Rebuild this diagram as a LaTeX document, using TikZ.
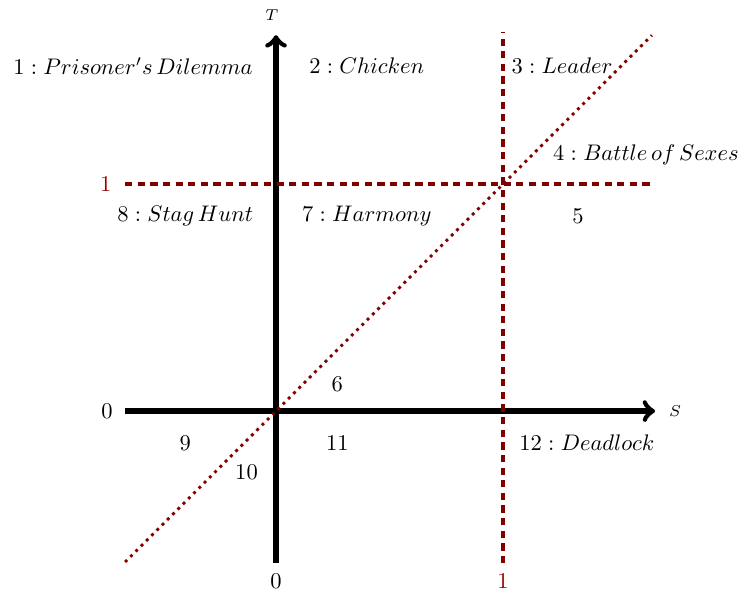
\documentclass[tikz,border=0pt]{standalone}
\begin{document}
\begin{tikzpicture}[x=3.54cm, y=3.54cm,
  axis/.style={line width=2.3pt,->},
  bound/.style={line width=1.6pt,dash pattern=on 3.2pt off 2.4pt,red!50!black},
  diag/.style={line width=1.3pt,dotted,red!50!black},
  tick/.style={inner sep=1pt},
  game/.style={inner sep=1pt}]
\useasboundingbox (-1.216,-0.793) rectangle (2.053,1.811);
% Axes
\coordinate (sL) at (-0.665,0);
\coordinate (sR) at (1.67,0);
\coordinate (tB) at (0,-0.67);
\coordinate (tT) at (0,1.656);
\draw[axis] (sL) -- (sR);
\draw[axis] (tB) -- (tT);
\node[tick,font=\scriptsize] (S) at (1.758,0) {$S$};
\node[tick,font=\scriptsize] (T) at (-0.018,1.745) {$T$};
% Boundaries S=1, T=1 and S=T
\coordinate (vB) at (1,-0.67);
\coordinate (vT) at (1,1.67);
\coordinate (hL) at (-0.665,1);
\coordinate (hR) at (1.67,1);
\coordinate (dB) at (-0.665,-0.665);
\coordinate (dT) at (1.656,1.656);
\draw[bound] (vB) -- (vT);
\draw[bound] (hL) -- (hR);
\draw[diag] (dB) -- (dT);
% Ticks
\node[tick] (s0) at (0,-0.75) {$0$};
\node[tick] (t0) at (-0.745,0) {$0$};
\node[tick,text=red!60!black] (s1) at (1,-0.75) {$1$};
\node[tick,text=red!60!black] (t1) at (-0.75,1) {$1$};
% Games
\node[game] (g1) at (-0.63,1.52) {$1:Prisoner's\,Dilemma$};
\node[game] (g2) at (0.40,1.52) {$2:Chicken$};
\node[game] (g3) at (1.26,1.52) {$3:Leader$};
\node[game] (g4) at (1.63,1.13) {$4:Battle\,of\,Sexes$};
\node[game] (g5) at (1.33,0.86) {$5$};
\node[game] (g6) at (0.27,0.12) {$6$};
\node[game] (g7) at (0.40,0.86) {$7:Harmony$};
\node[game] (g8) at (-0.40,0.86) {$8:Stag\,Hunt$};
\node[game] (g9) at (-0.40,-0.14) {$9$};
\node[game] (g10) at (-0.13,-0.27) {$10$};
\node[game] (g11) at (0.27,-0.14) {$11$};
\node[game] (g12) at (1.37,-0.14) {$12:Deadlock$};
\end{tikzpicture}
\end{document}
